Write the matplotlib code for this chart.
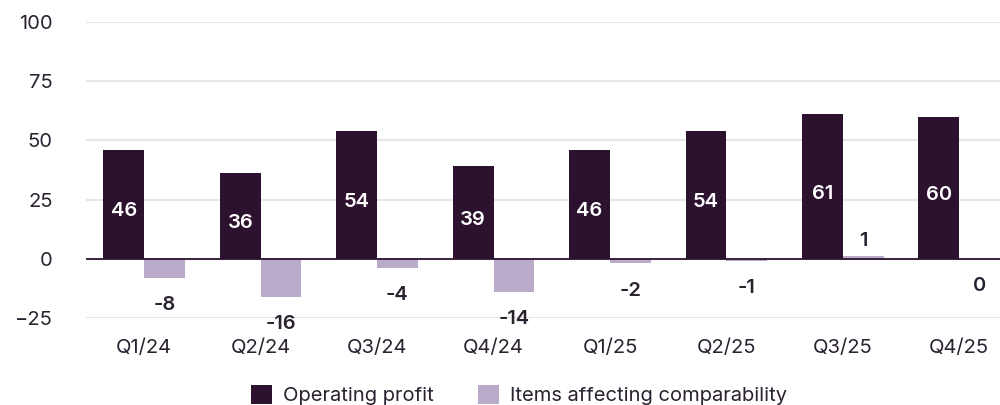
import matplotlib
matplotlib.use('Agg')
import matplotlib.pyplot as plt
import numpy as np

quarters = ['Q1/24', 'Q2/24', 'Q3/24', 'Q4/24', 'Q1/25', 'Q2/25', 'Q3/25', 'Q4/25']
operating_profit = [46, 36, 54, 39, 46, 54, 61, 60]
items_affecting = [-8, -16, -4, -14, -2, -1, 1, 0]

DARK = '#2d1230'
LIGHT = '#b9abc9'
TEXT = '#2b2230'

plt.rcParams['font.family'] = ['Inter', 'DejaVu Sans']


def main():
    fig = plt.figure(figsize=(10, 4.05), dpi=100)
    ax = fig.add_axes([0.086, 0.215, 0.914, 0.731])

    x = np.arange(len(quarters))
    w = 0.35
    ax.bar(x - w / 2, operating_profit, w, color=DARK, label='Operating profit', zorder=3)
    ax.bar(x + w / 2, items_affecting, w, color=LIGHT,
           label='Items affecting comparability', zorder=3)

    for xi, v in zip(x, operating_profit):
        ax.text(xi - w / 2, v / 2 - 3, str(v), color='white', ha='center', va='center',
                fontsize=14.5, fontweight='semibold', zorder=4)
    for xi, v in zip(x, items_affecting):
        if v > 0:
            y = v + 6.5
        else:
            y = v - 11.5
        ax.text(xi + w / 2, y, str(v), color=TEXT, ha='center', va='center',
                fontsize=14.5, fontweight='semibold', zorder=4)

    ax.set_xlim(-0.5, 7.35)
    ax.set_ylim(-25, 100)
    ax.set_yticks([-25, 0, 25, 50, 75, 100])
    ax.set_xticks(x)
    ax.set_xticklabels(quarters)
    ax.grid(axis='y', color='#e6e6e6', linewidth=1.5, zorder=0)
    ax.axhline(0, color=DARK, linewidth=1.3, zorder=4)
    for s in ax.spines.values():
        s.set_visible(False)
    ax.tick_params(axis='both', length=0, labelsize=14.5, colors=TEXT)
    ax.tick_params(axis='x', pad=15)
    ax.tick_params(axis='y', pad=24)

    fig.legend(loc='lower center', bbox_to_anchor=(0.519, -0.045), ncol=2, frameon=False,
               fontsize=14.5, handlelength=1.05, handleheight=1.05, columnspacing=2.2,
               handletextpad=0.55, labelcolor=TEXT)

    fig.savefig('out.png', dpi=100)


if __name__ == '__main__':
    main()
